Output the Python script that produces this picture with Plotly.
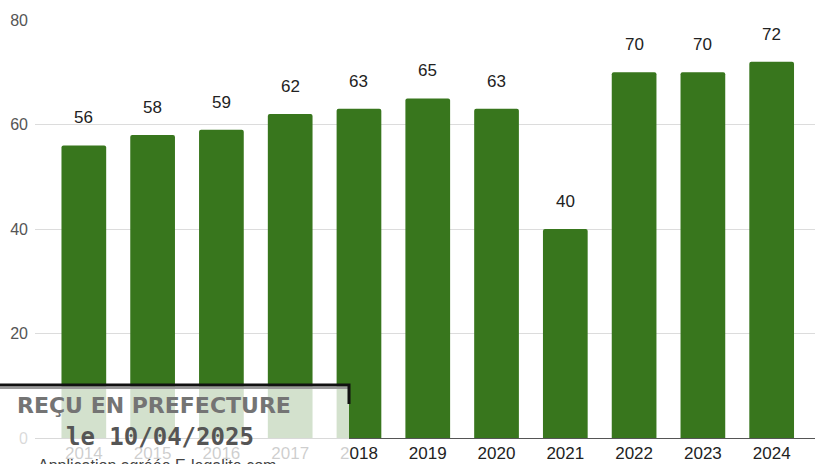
import plotly.graph_objects as go

years = ["2014", "2015", "2016", "2017", "2018", "2019", "2020", "2021", "2022", "2023", "2024"]
values = [56, 58, 59, 62, 63, 65, 63, 40, 70, 70, 72]
y_ticks = [0, 20, 40, 60, 80]

W, H = 815, 464
L, R, T, B = 35, 0, 20, 26
PW, PH = W - L - R, H - T - B

def px(x):
    return (x - L) / PW

def py(y):
    return (H - B - y) / PH

GREEN = "#38761d"

fig = go.Figure()
fig.add_trace(go.Bar(
    x=list(range(len(years))), y=values,
    marker=dict(color=GREEN, cornerradius=2, line=dict(width=0)),
    hoverinfo="skip",
))

for i, v in enumerate(values):
    fig.add_annotation(x=i, y=v, text=str(v), showarrow=False, yanchor="bottom",
                       yshift=16, font=dict(size=17, color="#222", family="Liberation Sans, Arial"))

# stamp overlay
fig.add_shape(type="rect", xref="paper", yref="paper",
              x0=px(-5), x1=px(349), y0=py(470), y1=py(386),
              fillcolor="rgba(255,255,255,0.78)", line=dict(width=0), layer="above")
fig.add_shape(type="line", xref="paper", yref="paper",
              x0=px(-5), x1=px(349), y0=py(388), y1=py(388),
              line=dict(color="#999", width=2), layer="above")
fig.add_shape(type="path", xref="paper", yref="paper",
              path=f"M {px(-5)},{py(385)} L {px(349)},{py(385)} L {px(349)},{py(404)}",
              line=dict(color="#111", width=3), layer="above")

fig.add_annotation(xref="paper", yref="paper", x=px(154), y=py(405), text="<b>REÇU EN PREFECTURE</b>",
                   showarrow=False, xanchor="center", yanchor="middle",
                   font=dict(size=22, color="#747474", family="DejaVu Sans"))
fig.add_annotation(xref="paper", yref="paper", x=px(160), y=py(437), text="<b>le 10/04/2025</b>",
                   showarrow=False, xanchor="center", yanchor="middle",
                   font=dict(size=24, color="#555", family="DejaVu Sans Mono"))
fig.add_annotation(xref="paper", yref="paper", x=px(157), y=py(455), text="Application agréée E-legalite.com",
                   showarrow=False, xanchor="center", yanchor="top",
                   font=dict(size=16, color="#444", family="Liberation Sans, Arial"))

fig.update_layout(
    width=W, height=H,
    margin=dict(l=L, r=R, t=T, b=B, pad=0),
    plot_bgcolor="white", paper_bgcolor="white",
    showlegend=False, bargap=0.35,
    font=dict(family="Liberation Sans, Arial", size=17, color="#222"),
)
fig.update_xaxes(
    tickmode="array", tickvals=list(range(len(years))), ticktext=years,
    range=[-0.71, 10.63], showgrid=False, showline=True, linecolor="#555", linewidth=1,
    ticks="", tickfont=dict(size=17, color="#222"), fixedrange=True,
)
fig.update_yaxes(
    range=[0, 80], tickvals=y_ticks, showgrid=True, gridcolor="#dcdcdc", gridwidth=1,
    zeroline=False, showline=False, ticks="", tickfont=dict(size=16, color="#555"),
    ticklabelstandoff=6, fixedrange=True,
)

fig.write_html("out.html", config={"displayModeBar": False},
               post_script="document.body.style.margin='0';")
